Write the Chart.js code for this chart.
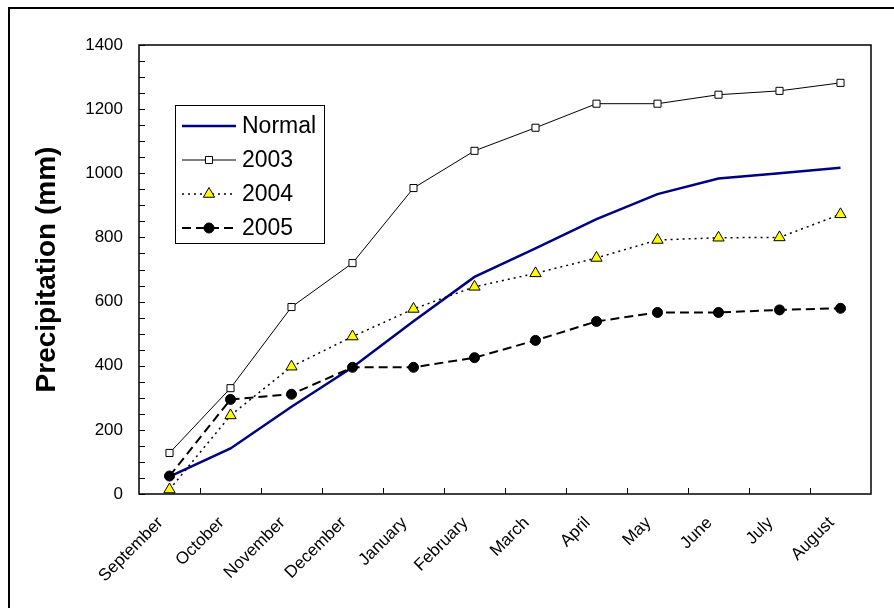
<!DOCTYPE html>
<html>
<head>
<meta charset="utf-8">
<script src="https://cdn.jsdelivr.net/npm/chart.js@4.4.1/dist/chart.umd.min.js"></script>
<style>
  html, body { margin: 0; padding: 0; background: #fff; overflow: hidden; }
  #wrap { position: relative; width: 894px; height: 608px; }
  #frame {
    position: absolute; left: 8px; top: 7px; width: 1000px; height: 1000px;
    border-left: 2px solid #000; border-top: 2px solid #000;
  }
  #chart { position: absolute; left: 0; top: 0; }
</style>
</head>
<body>
<div id="wrap">
  <div id="frame"></div>
  <canvas id="chart" width="894" height="608"></canvas>
</div>
<script>
const months = ["September", "October", "November", "December", "January", "February",
  "March", "April", "May", "June", "July", "August"];

// cumulative precipitation (mm)
const normal = [54, 142, 272, 395, 539, 677, 766, 857, 935, 984, 1000, 1017];
const y2003 = [128, 330, 583, 720, 954, 1070, 1142, 1217, 1217, 1245, 1257, 1282];
const y2004 = [14, 245, 397, 491, 577, 646, 688, 736, 792, 799, 800, 872];
const y2005 = [56, 295, 311, 395, 395, 425, 479, 538, 566, 566, 574, 579];

const yTicks = [0, 200, 400, 600, 800, 1000, 1200, 1400];

const FONT = "'Liberation Sans', Arial, sans-serif";

// plot border, inward tick marks
const frameTicks = {
  id: "frameTicks",
  afterDraw(chart) {
    const { ctx, chartArea: a } = chart;
    const xs = chart.scales.x;
    const ys = chart.scales.y;
    ctx.save();
    ctx.strokeStyle = "#000";
    ctx.lineWidth = 1;
    ctx.beginPath();
    for (let v = 0; v <= 1400; v += 50) {
      const py = Math.round(ys.getPixelForValue(v)) + 0.5;
      ctx.moveTo(a.left, py);
      ctx.lineTo(a.left + 6, py);
    }
    for (let i = 1; i < months.length; i++) {
      const px = Math.round((xs.getPixelForValue(i - 1) + xs.getPixelForValue(i)) / 2) + 0.5;
      ctx.moveTo(px, a.bottom);
      ctx.lineTo(px, a.bottom - 6);
    }
    ctx.stroke();
    ctx.lineWidth = 1.5;
    ctx.strokeRect(a.left, a.top, a.right - a.left, a.bottom - a.top);
    ctx.restore();
  },
};

function drawMarker(ctx, style, x, y, r, fill) {
  ctx.beginPath();
  if (style === "rect") {
    const s = r * Math.SQRT1_2;
    ctx.rect(x - s, y - s, 2 * s, 2 * s);
  } else if (style === "triangle") {
    ctx.moveTo(x, y - r);
    ctx.lineTo(x + r * 0.866, y + r / 2);
    ctx.lineTo(x - r * 0.866, y + r / 2);
    ctx.closePath();
  } else {
    ctx.arc(x, y, r, 0, Math.PI * 2);
  }
  ctx.fillStyle = fill;
  ctx.fill();
  ctx.lineWidth = 1;
  ctx.strokeStyle = "#000";
  ctx.stroke();
}

// legend box inside the plot area
const innerLegend = {
  id: "innerLegend",
  afterDraw(chart) {
    const { ctx, chartArea: a } = chart;
    const left = a.left + 36;
    const top = a.top + 60;
    const w = 149;
    const h = 138;
    ctx.save();
    ctx.fillStyle = "#fff";
    ctx.fillRect(left, top, w, h);
    ctx.strokeStyle = "#000";
    ctx.lineWidth = 1;
    ctx.strokeRect(left + 0.5, top + 0.5, w, h);

    chart.data.datasets.forEach((ds, i) => {
      const cy = top + 21 + i * 34;
      const x1 = left + 7;
      const x2 = left + 61;
      ctx.beginPath();
      ctx.setLineDash(ds.borderDash || []);
      ctx.lineWidth = ds.borderWidth;
      ctx.strokeStyle = ds.borderColor;
      ctx.moveTo(x1, cy);
      ctx.lineTo(x2, cy);
      ctx.stroke();
      ctx.setLineDash([]);
      if (ds.pointRadius > 0) {
        drawMarker(ctx, ds.pointStyle, (x1 + x2) / 2, cy, ds.pointRadius, ds.pointBackgroundColor);
      }
      ctx.fillStyle = "#000";
      ctx.font = "23px " + FONT;
      ctx.textBaseline = "middle";
      ctx.textAlign = "left";
      ctx.fillText(ds.label, left + 67, cy + 1);
    });
    ctx.restore();
  },
};

const ctx = document.getElementById("chart").getContext("2d");

new Chart(ctx, {
  type: "line",
  data: {
    labels: months,
    datasets: [
      {
        label: "Normal",
        data: normal,
        borderColor: "#000080",
        borderWidth: 2.5,
        pointRadius: 0,
        order: 4,
      },
      {
        label: "2003",
        data: y2003,
        borderColor: "#000",
        borderWidth: 1,
        pointStyle: "rect",
        pointRadius: 5,
        pointBackgroundColor: "#fff",
        pointBorderColor: "#000",
        pointBorderWidth: 1,
        order: 3,
      },
      {
        label: "2004",
        data: y2004,
        borderColor: "#000",
        borderWidth: 1.5,
        borderDash: [2, 4],
        pointStyle: "triangle",
        pointRadius: 6.5,
        pointBackgroundColor: "#ffff00",
        pointBorderColor: "#000",
        pointBorderWidth: 1,
        order: 2,
      },
      {
        label: "2005",
        data: y2005,
        borderColor: "#000",
        borderWidth: 2,
        borderDash: [9, 5],
        pointStyle: "circle",
        pointRadius: 5,
        pointBackgroundColor: "#000",
        pointBorderColor: "#000",
        pointBorderWidth: 1,
        order: 1,
      },
    ],
  },
  options: {
    responsive: false,
    animation: false,
    layout: { padding: { left: 10, right: 23, top: 45, bottom: 0 } },
    plugins: {
      legend: { display: false },
      tooltip: { enabled: false },
    },
    scales: {
      x: {
        offset: true,
        grid: { display: false, drawTicks: false },
        border: { display: false },
        ticks: {
          color: "#000",
          font: { family: FONT, size: 17 },
          maxRotation: 45,
          minRotation: 45,
          padding: 19,
          labelOffset: -9,
          autoSkip: false,
        },
        afterFit: (scale) => {
          scale.height = 114;
        },
      },
      y: {
        min: 0,
        max: 1400,
        grid: { display: false, drawTicks: false },
        border: { display: false },
        afterBuildTicks: (scale) => {
          scale.ticks = yTicks.map((v) => ({ value: v }));
        },
        ticks: {
          color: "#000",
          font: { family: FONT, size: 17 },
          padding: 16,
          callback: (v) => String(v),
        },
        title: {
          display: true,
          text: "Precipitation (mm)",
          color: "#000",
          font: { family: FONT, size: 28, weight: "bold" },
          padding: { top: 20, bottom: 0 },
        },
        afterFit: (scale) => {
          scale.width = 129;
        },
      },
    },
  },
  plugins: [frameTicks, innerLegend],
});
</script>
</body>
</html>
